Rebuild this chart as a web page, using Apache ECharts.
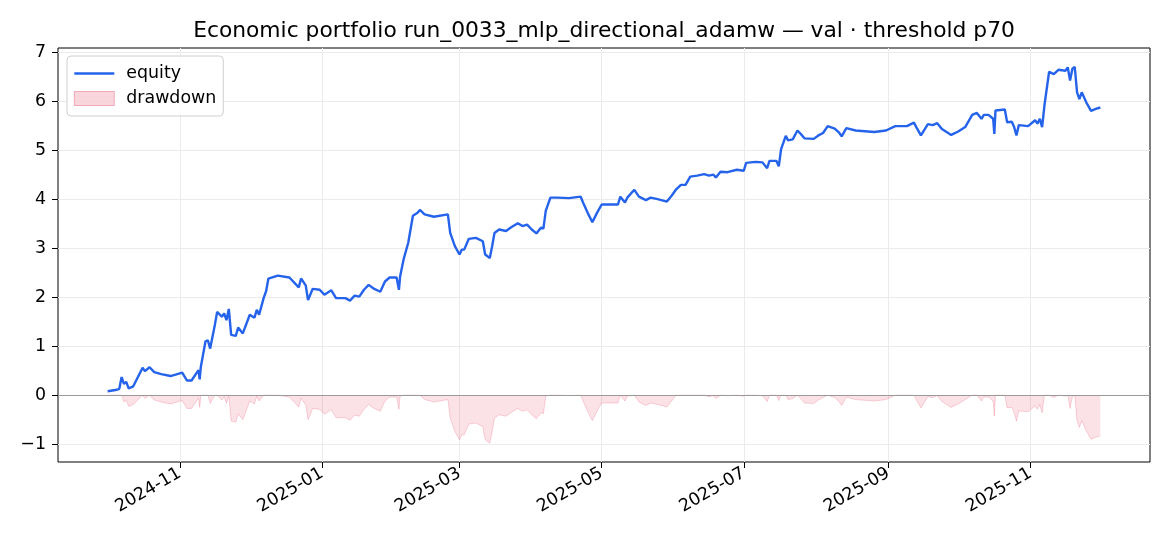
<!DOCTYPE html>
<html>
<head>
<meta charset="utf-8">
<script src="https://cdn.jsdelivr.net/npm/echarts@6/dist/echarts.min.js"></script>
<style>
  html, body { margin: 0; padding: 0; background: #fff; }
  #chart { width: 1170px; height: 546px; }
</style>
</head>
<body>
<div id="chart"></div>
<script>
// equity curve
const dates = [
  '2024-10-01', '2024-10-05', '2024-10-06', '2024-10-07', '2024-10-08', '2024-10-09', '2024-10-10', '2024-10-12',
  '2024-10-16', '2024-10-17', '2024-10-19', '2024-10-21', '2024-10-24', '2024-10-28', '2024-11-02', '2024-11-04',
  '2024-11-06', '2024-11-09', '2024-11-09 12:00', '2024-11-10', '2024-11-12', '2024-11-13', '2024-11-14', '2024-11-16',
  '2024-11-17', '2024-11-19', '2024-11-20', '2024-11-21', '2024-11-22', '2024-11-23', '2024-11-25', '2024-11-26',
  '2024-11-28', '2024-12-01', '2024-12-03', '2024-12-04', '2024-12-05', '2024-12-07', '2024-12-08', '2024-12-09',
  '2024-12-13', '2024-12-18', '2024-12-22', '2024-12-23', '2024-12-25', '2024-12-26', '2024-12-28', '2024-12-31',
  '2025-01-02', '2025-01-05', '2025-01-07', '2025-01-11', '2025-01-13', '2025-01-15', '2025-01-17', '2025-01-19',
  '2025-01-21', '2025-01-23', '2025-01-26', '2025-01-28', '2025-01-30', '2025-02-02', '2025-02-03', '2025-02-03 12:00',
  '2025-02-05', '2025-02-07', '2025-02-09', '2025-02-11', '2025-02-12', '2025-02-14', '2025-02-18', '2025-02-24',
  '2025-02-25', '2025-02-27', '2025-03-01', '2025-03-02', '2025-03-03', '2025-03-05', '2025-03-08', '2025-03-11',
  '2025-03-12', '2025-03-14', '2025-03-15', '2025-03-16', '2025-03-18', '2025-03-21', '2025-03-23', '2025-03-26',
  '2025-03-28', '2025-03-30', '2025-04-01', '2025-04-03', '2025-04-05', '2025-04-06', '2025-04-07', '2025-04-09',
  '2025-04-12', '2025-04-17', '2025-04-22', '2025-04-23', '2025-04-25', '2025-04-27', '2025-04-29', '2025-05-01',
  '2025-05-04', '2025-05-08', '2025-05-09', '2025-05-11', '2025-05-12', '2025-05-15', '2025-05-17', '2025-05-20',
  '2025-05-22', '2025-05-25', '2025-05-29', '2025-05-31', '2025-06-02', '2025-06-04', '2025-06-06', '2025-06-08',
  '2025-06-11', '2025-06-14', '2025-06-16', '2025-06-18', '2025-06-19', '2025-06-21', '2025-06-24', '2025-06-28',
  '2025-07-01', '2025-07-02', '2025-07-06', '2025-07-09', '2025-07-11', '2025-07-12', '2025-07-15', '2025-07-16',
  '2025-07-17', '2025-07-19', '2025-07-20', '2025-07-22', '2025-07-24', '2025-07-26', '2025-07-27', '2025-07-31',
  '2025-08-02', '2025-08-04', '2025-08-06', '2025-08-09', '2025-08-11', '2025-08-12', '2025-08-14', '2025-08-18',
  '2025-08-26', '2025-08-31', '2025-09-04', '2025-09-09', '2025-09-12', '2025-09-13', '2025-09-15', '2025-09-18',
  '2025-09-20', '2025-09-22', '2025-09-24', '2025-09-28', '2025-10-01', '2025-10-04', '2025-10-07', '2025-10-09',
  '2025-10-11', '2025-10-12', '2025-10-14', '2025-10-16', '2025-10-16 12:00', '2025-10-17', '2025-10-21', '2025-10-22',
  '2025-10-24', '2025-10-25', '2025-10-26', '2025-10-27', '2025-10-31', '2025-11-03', '2025-11-04', '2025-11-05',
  '2025-11-06', '2025-11-07', '2025-11-09', '2025-11-11', '2025-11-13', '2025-11-16', '2025-11-17', '2025-11-18',
  '2025-11-19', '2025-11-20', '2025-11-21', '2025-11-22', '2025-11-23', '2025-11-25', '2025-11-27', '2025-11-29',
  '2025-12-01'
];
const equity = [
  0.08, 0.11, 0.13, 0.37, 0.23, 0.27, 0.14, 0.18,
  0.56, 0.49, 0.57, 0.47, 0.43, 0.39, 0.46, 0.30,
  0.30, 0.51, 0.32, 0.58, 1.10, 1.12, 0.95, 1.43,
  1.70, 1.60, 1.67, 1.53, 1.76, 1.23, 1.21, 1.38,
  1.26, 1.64, 1.58, 1.74, 1.64, 1.99, 2.12, 2.38,
  2.44, 2.40, 2.20, 2.38, 2.24, 1.94, 2.17, 2.15,
  2.05, 2.14, 1.98, 1.98, 1.93, 2.03, 2.01, 2.15,
  2.25, 2.18, 2.11, 2.32, 2.40, 2.40, 2.15, 2.42,
  2.77, 3.11, 3.66, 3.72, 3.78, 3.69, 3.64, 3.69,
  3.31, 3.04, 2.87, 2.97, 2.97, 3.19, 3.21, 3.14,
  2.87, 2.80, 3.04, 3.31, 3.38, 3.35, 3.42, 3.51,
  3.45, 3.48, 3.38, 3.30, 3.42, 3.40, 3.76, 4.03,
  4.03, 4.02, 4.05, 3.93, 3.72, 3.53, 3.72, 3.89,
  3.89, 3.89, 4.05, 3.93, 4.03, 4.19, 4.05, 3.98,
  4.03, 4.00, 3.95, 4.07, 4.20, 4.29, 4.29, 4.46,
  4.48, 4.51, 4.48, 4.50, 4.44, 4.56, 4.55, 4.60,
  4.58, 4.74, 4.76, 4.75, 4.63, 4.78, 4.78, 4.67,
  5.02, 5.29, 5.20, 5.22, 5.40, 5.30, 5.24, 5.23,
  5.30, 5.35, 5.49, 5.44, 5.35, 5.28, 5.45, 5.40,
  5.37, 5.40, 5.49, 5.49, 5.56, 5.47, 5.30, 5.53,
  5.51, 5.55, 5.43, 5.31, 5.38, 5.47, 5.72, 5.76,
  5.64, 5.72, 5.72, 5.64, 5.33, 5.81, 5.83, 5.57,
  5.58, 5.47, 5.30, 5.51, 5.49, 5.61, 5.54, 5.64,
  5.47, 5.91, 6.60, 6.55, 6.64, 6.62, 6.69, 6.42,
  6.66, 6.70, 6.18, 6.04, 6.18, 5.97, 5.80, 5.84,
  5.87
];
const xTicks = ['2024-11-01', '2025-01-01', '2025-03-01', '2025-05-01', '2025-07-01', '2025-09-01', '2025-11-01'];
const yTicks = [-1, 0, 1, 2, 3, 4, 5, 6, 7];

// drawdown = equity below its running peak
const drawdown = [];
let peak = -Infinity;
for (let i = 0; i < equity.length; i++) {
  peak = Math.max(peak, equity[i]);
  drawdown.push(+(equity[i] - peak).toFixed(2));
}

const ts = s => new Date(s.replace(' ', 'T')).getTime();
const t0 = ts(dates[0]);
const t1 = ts(dates[dates.length - 1]);
const xPad = (t1 - t0) * 0.05;
const lo = Math.min(...drawdown), hi = Math.max(...equity);
const yPad = (hi - lo) * 0.05;

const FONT = 'DejaVu Sans';
const TICK_FS = 17.4;

const chart = echarts.init(document.getElementById('chart'), null, { renderer: 'canvas' });
const option = {
  backgroundColor: '#ffffff',
  animation: false,
  textStyle: { fontFamily: FONT, color: '#000' },
  title: {
    text: 'Economic portfolio run_0033_mlp_directional_adamw \u2014 val \u00b7 threshold p70',
    left: 599,
    textAlign: 'center',
    top: 15,
    textStyle: { fontFamily: FONT, fontSize: 21.8, fontWeight: 'normal', color: '#000' }
  },
  legend: {
    orient: 'vertical',
    left: 67,
    top: 56,
    padding: [9, 7, 9, 6],
    itemWidth: 40,
    itemHeight: 14,
    itemGap: 8,
    backgroundColor: 'rgba(255,255,255,0.85)',
    borderColor: '#d0d0d0',
    borderWidth: 1,
    borderRadius: 4,
    textStyle: { fontFamily: FONT, fontSize: TICK_FS, color: '#000', padding: [0, 0, 0, 7] },
    data: [
      { name: 'equity', itemStyle: { opacity: 0 }, lineStyle: { width: 2.6, color: '#2563eb' } },
      { name: 'drawdown', icon: 'rect',
        itemStyle: { color: 'rgba(220,20,60,0.18)', borderColor: 'rgba(220,20,60,0.30)', borderWidth: 1 } }
    ]
  },
  grid: {
    left: 58, right: 20, top: 48, bottom: 84,
    show: true, borderColor: '#000', borderWidth: 1, backgroundColor: 'transparent'
  },
  xAxis: {
    type: 'value',
    min: t0 - xPad,
    max: t1 + xPad,
    axisLine: { show: false, onZero: false },
    axisTick: { show: true, length: 6, lineStyle: { color: '#000' }, customValues: xTicks.map(ts) },
    axisLabel: {
      customValues: xTicks.map(ts),
      rotate: 30,
      margin: 10,
      fontFamily: FONT,
      fontSize: TICK_FS,
      color: '#000',
      formatter: v => {
        const d = new Date(v);
        return d.getFullYear() + '-' + String(d.getMonth() + 1).padStart(2, '0');
      }
    },
    splitLine: { show: true, lineStyle: { color: '#ebebeb', width: 1 } }
  },
  yAxis: {
    type: 'value',
    min: +(lo - yPad).toFixed(3),
    max: +(hi + yPad).toFixed(3),
    axisLine: { show: false, onZero: false },
    axisTick: { show: true, length: 6, lineStyle: { color: '#000' }, customValues: yTicks },
    axisLabel: {
      customValues: yTicks, margin: 12, fontFamily: FONT, fontSize: TICK_FS, color: '#000',
      formatter: v => String(v).replace('-', '\u2212')
    },
    splitLine: { show: true, lineStyle: { color: '#ebebeb', width: 1 } }
  },
  series: [
    {
      name: 'drawdown',
      type: 'line',
      data: dates.map((d, i) => [ts(d), drawdown[i]]),
      symbol: 'none',
      lineStyle: { color: 'rgba(220,20,60,0.18)', width: 1 },
      itemStyle: { color: 'rgba(220,20,60,0.18)' },
      areaStyle: { color: 'rgba(220,20,60,0.18)', origin: 0 },
      z: 2,
      markLine: {
        silent: true,
        symbol: 'none',
        label: { show: false },
        lineStyle: { color: '#9a9a9a', width: 1, type: 'solid' },
        data: [{ yAxis: 0 }]
      }
    },
    {
      name: 'equity',
      type: 'line',
      data: dates.map((d, i) => [ts(d), equity[i]]),
      symbol: 'none',
      lineStyle: { color: '#2563eb', width: 2.4 },
      itemStyle: { color: '#2563eb' },
      z: 3
    }
  ]
};
chart.setOption(option);
</script>
</body>
</html>
